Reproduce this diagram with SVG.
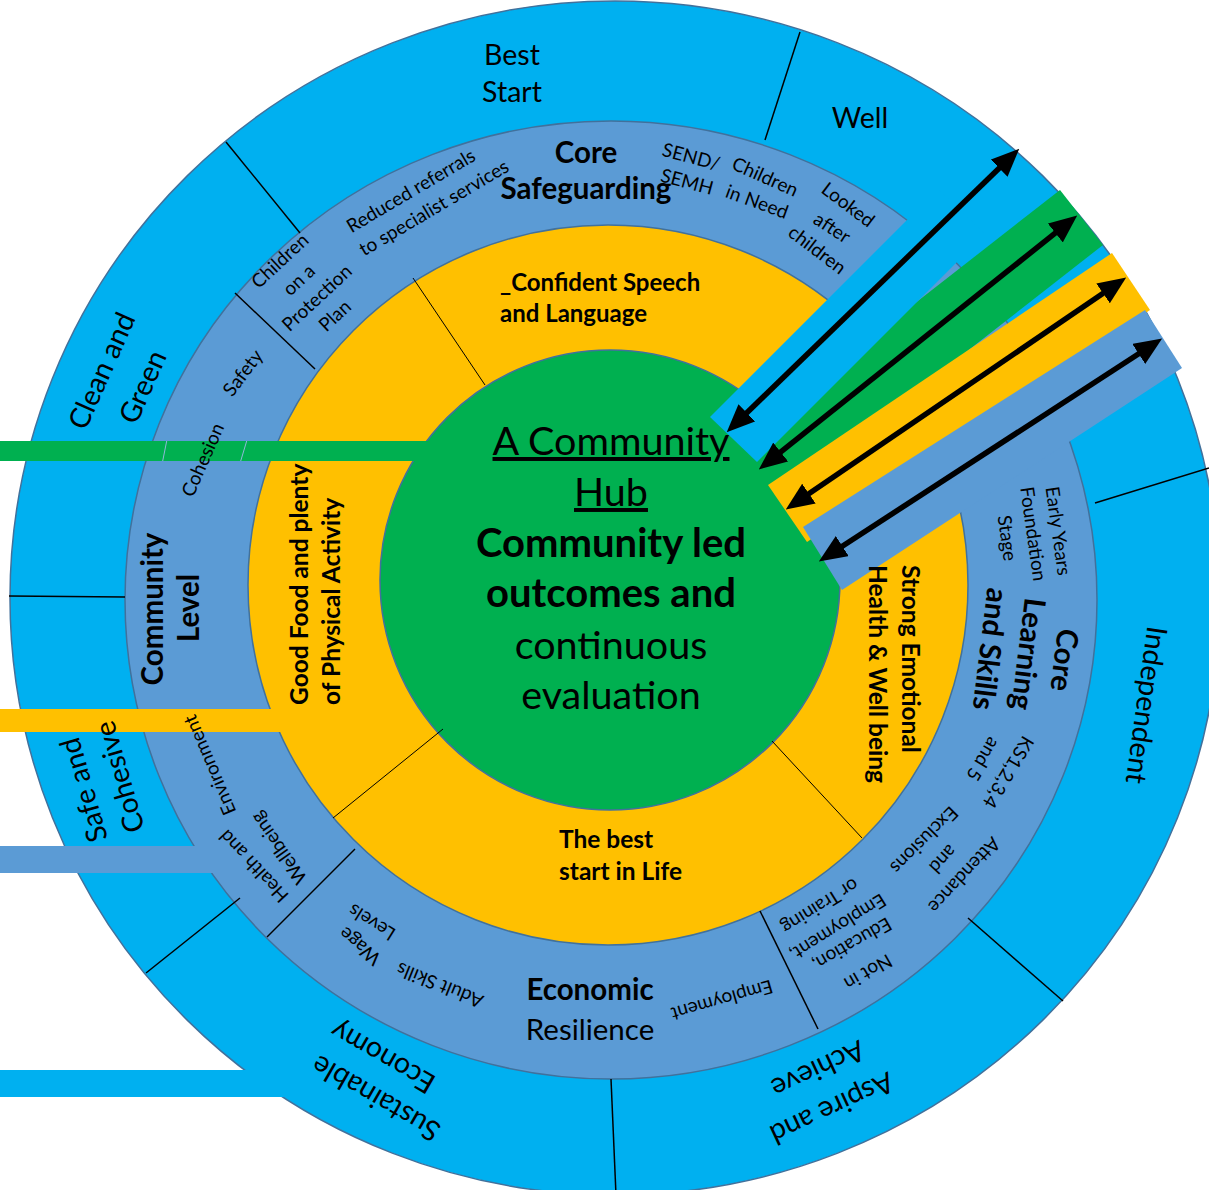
<svg xmlns="http://www.w3.org/2000/svg" width="1209" height="1190" viewBox="0 0 1209 1190">
<defs>
<style>
text { font-family: Lato, "Open Sans", "Liberation Sans", sans-serif; fill: #000; }
.o { font-size: 28.5px; }
.s { font-size: 19px; }
.h { font-size: 29.5px; font-weight: 700; }
.y { font-size: 24.5px; font-weight: 700; }
.c { font-size: 39.5px; }
.cb { font-size: 40px; font-weight: 700; }
.u { text-decoration: underline; }
.sep { stroke: #000; stroke-width: 1.5; fill: none; }
.thin { stroke: #000; stroke-width: 1; fill: none; }
.ring { stroke: #41719C; stroke-width: 1.5; }
.lb { fill: #00B0F0; }
.mb { fill: #5B9BD5; }
.yl { fill: #FFC000; }
.gr { fill: #00B050; }
.arrow { stroke: #000; stroke-width: 5.5; fill: none; marker-start: url(#head); marker-end: url(#head); }
</style>
<marker id="head" markerUnits="userSpaceOnUse" markerWidth="28" markerHeight="24" refX="1" refY="12" orient="auto-start-reverse" viewBox="0 0 28 24">
<path d="M0,0 L28,12 L0,24 z" fill="#000"/>
</marker>
</defs>

<!-- concentric rings -->
<g id="rings">
<ellipse class="lb ring" cx="615" cy="598" rx="605" ry="597"/>
<ellipse class="mb ring" cx="611" cy="600" rx="486" ry="479"/>
<circle class="yl ring" cx="608" cy="585" r="360"/>
<circle class="gr ring" cx="610" cy="580" r="230"/>
</g>

<!-- segment dividers -->
<g id="dividers">
<line class="sep" x1="226" y1="142" x2="300" y2="233"/>
<line class="sep" x1="800" y1="32" x2="765" y2="140"/>
<line class="sep" x1="9" y1="596" x2="125" y2="597"/>
<line class="sep" x1="240" y1="898" x2="146" y2="973"/>
<line class="sep" x1="611" y1="1079" x2="616" y2="1195"/>
<line class="sep" x1="968" y1="918" x2="1063" y2="1001"/>
<line class="sep" x1="1095" y1="503" x2="1209" y2="468"/>
<line class="sep" x1="235" y1="293" x2="315" y2="369"/>
<line class="sep" x1="355" y1="849" x2="267" y2="937"/>
<line class="sep" x1="760" y1="911" x2="818" y2="1029"/>
<line class="thin" x1="413" y1="278" x2="485" y2="385"/>
<line class="thin" x1="333" y1="818" x2="443" y2="729"/>
<line class="thin" x1="772" y1="741" x2="862" y2="838"/>
<path d="M904,226 L866,284 Q861,292 852,291" fill="none" stroke="#8cb4dd" stroke-width="1"/>
</g>

<!-- connectors: bands and double-headed arrows -->
<g id="connectors">
<rect class="gr" x="0" y="441" width="430" height="20"/>
<line x1="166.7" y1="441" x2="162.7" y2="461" stroke="#8fb8d8" stroke-width="1"/>
<line x1="246.7" y1="441" x2="240.7" y2="461" stroke="#8fb8d8" stroke-width="1"/>
<rect class="yl" x="0" y="709" width="300" height="23"/>
<rect class="mb" x="0" y="846" width="260" height="27"/>
<rect class="lb" x="0" y="1070" width="300" height="27"/>

<polygon class="gr" points="1060,190 1103,245 788,491 745,436"/>
<polygon class="yl" points="1112,253 1150,310 807,542 768,485"/>
<polygon class="mb" points="1145,310 1182,368 842,590 803,527"/>
<polygon class="lb" points="710,417 757,462 985,234 938,189"/>

<line class="arrow" x1="746.1" y1="413.5" x2="999.9" y2="167.5"/>
<line class="arrow" x1="779.9" y1="452.6" x2="1056.1" y2="232.4"/>
<line class="arrow" x1="808.1" y1="494.2" x2="1103.9" y2="292.8"/>
<line class="arrow" x1="841.5" y1="546.7" x2="1139.5" y2="353.3"/>
</g>

<!-- outer ring labels -->
<g id="best-start"><text class="o" x="512" y="65" text-anchor="middle">Best</text><text class="o" x="512" y="102" text-anchor="middle">Start</text></g>
<g id="well"><text class="o" x="860" y="128" text-anchor="middle">Well</text></g>
<g id="clean-green">
<text class="o" text-anchor="middle" y="9.5" transform="translate(102,371) rotate(-66)">Clean and</text>
<text class="o" text-anchor="middle" y="9.5" transform="translate(143,387) rotate(-66)">Green</text>
</g>
<g id="safe-cohesive">
<text class="o" text-anchor="middle" y="9.5" transform="translate(84,790) rotate(-106)">Safe and</text>
<text class="o" text-anchor="middle" y="9.5" transform="translate(120,777) rotate(-106)">Cohesive</text>
</g>
<g id="sustainable-economy">
<text class="o" text-anchor="middle" y="9.5" transform="translate(376,1098) rotate(-150)">Sustainable</text>
<text class="o" text-anchor="middle" y="9.5" transform="translate(383,1057) rotate(-150)">Economy</text>
</g>
<g id="aspire-achieve">
<text class="o" text-anchor="middle" y="9.5" transform="translate(832,1108) rotate(155)">Aspire and</text>
<text class="o" text-anchor="middle" y="9.5" transform="translate(818,1069) rotate(155)">Achieve</text>
</g>
<g id="independent">
<text class="o" text-anchor="middle" y="9.5" transform="translate(1146,705) rotate(98)">Independent</text>
</g>

<!-- core safeguarding segment -->
<g id="core-safeguarding">
<text class="h" x="586" y="163" text-anchor="middle">Core</text>
<text class="h" x="586" y="199" text-anchor="middle">Safeguarding</text>
<text class="s" text-anchor="middle" y="6.3" transform="translate(691,157) rotate(15)">SEND/</text>
<text class="s" text-anchor="middle" y="6.3" transform="translate(687,182) rotate(15)">SEMH</text>
<text class="s" text-anchor="middle" y="6.3" transform="translate(765,177) rotate(24)">Children</text>
<text class="s" text-anchor="middle" y="6.3" transform="translate(757,202) rotate(20)">in Need</text>
<text class="s" text-anchor="middle" y="6.3" transform="translate(848,205) rotate(37)">Looked</text>
<text class="s" text-anchor="middle" y="6.3" transform="translate(832,228) rotate(33)">after</text>
<text class="s" text-anchor="middle" y="6.3" transform="translate(817,250) rotate(37)">children</text>
<text class="s" text-anchor="middle" y="6.3" transform="translate(411,191) rotate(-30.5)">Reduced referrals</text>
<text class="s" text-anchor="middle" y="6.3" transform="translate(434,208) rotate(-30.5)">to specialist services</text>
<text class="s" text-anchor="middle" y="6.3" transform="translate(280,261) rotate(-43)">Children</text>
<text class="s" text-anchor="middle" y="6.3" transform="translate(299,280) rotate(-43)">on a</text>
<text class="s" text-anchor="middle" y="6.3" transform="translate(317,298) rotate(-43)">Protection</text>
<text class="s" text-anchor="middle" y="6.3" transform="translate(335,316) rotate(-43)">Plan</text>
</g>

<!-- community level segment -->
<g id="community-level">
<text class="s" text-anchor="middle" y="6.3" transform="translate(243,373) rotate(-53)">Safety</text>
<text class="s" text-anchor="middle" y="6.3" transform="translate(203,460) rotate(-66)">Cohesion</text>
<text class="h" text-anchor="middle" y="10" transform="translate(153,609) rotate(-90)">Community</text>
<text class="h" text-anchor="middle" y="10" transform="translate(189,608) rotate(-90)">Level</text>
<text class="s" text-anchor="middle" y="6.3" transform="translate(254,866) rotate(-133)">Health and</text>
<text class="s" text-anchor="middle" y="6.3" transform="translate(210,765) rotate(-113)">Environment</text>
<text class="s" text-anchor="middle" y="6.3" transform="translate(279,848) rotate(-125)">Wellbeing</text>
</g>

<!-- economic resilience segment -->
<g id="economic-resilience">
<text class="s" text-anchor="middle" y="6.3" transform="translate(360,946) rotate(-140)">Wage</text>
<text class="s" text-anchor="middle" y="6.3" transform="translate(372,922) rotate(-148)">Levels</text>
<text class="s" text-anchor="middle" y="6.3" transform="translate(440,985) rotate(-158)">Adult Skills</text>
<text class="h" x="590" y="1000" text-anchor="middle">Economic</text>
<text class="o" x="590" y="1040" text-anchor="middle" style="font-size:29.5px">Resilience</text>
<text class="s" text-anchor="middle" y="6.3" transform="translate(722,1000) rotate(164)">Employment</text>
</g>

<!-- core learning and skills segment -->
<g id="core-learning">
<text class="s" text-anchor="middle" y="6.3" transform="translate(868,972) rotate(150)">Not in</text>
<text class="s" text-anchor="middle" y="6.3" transform="translate(852,944) rotate(150)">Education,</text>
<text class="s" text-anchor="middle" y="6.3" transform="translate(838,927) rotate(148)">Employment,</text>
<text class="s" text-anchor="middle" y="6.3" transform="translate(820,906) rotate(148)">or Training</text>
<text class="s" text-anchor="middle" y="6.3" transform="translate(964,875) rotate(133)">Attendance</text>
<text class="s" text-anchor="middle" y="6.3" transform="translate(943,859) rotate(133)">and</text>
<text class="s" text-anchor="middle" y="6.3" transform="translate(924,840) rotate(135)">Exclusions</text>
<text class="s" text-anchor="middle" y="6.3" transform="translate(1008,772) rotate(121)">KS1,2,3,4</text>
<text class="s" text-anchor="middle" y="6.3" transform="translate(983,759) rotate(121)">and 5</text>
<text class="s" text-anchor="middle" y="6.3" transform="translate(1058,531) rotate(82)">Early Years</text>
<text class="s" text-anchor="middle" y="6.3" transform="translate(1033,534) rotate(82)">Foundation</text>
<text class="s" text-anchor="middle" y="6.3" transform="translate(1007,538) rotate(82)">Stage</text>
<text class="h" text-anchor="middle" y="10" transform="translate(1064,660) rotate(97)">Core</text>
<text class="h" text-anchor="middle" y="10" transform="translate(1028,654) rotate(97)">Learning</text>
<text class="h" text-anchor="middle" y="10" transform="translate(990,649) rotate(97)">and Skills</text>
</g>

<!-- inner outcome segments -->
<g id="speech-language">
<text class="y" x="500" y="291" style="font-size:24px">_Confident Speech</text>
<text class="y" x="500" y="322" style="font-size:24px">and Language</text>
</g>
<g id="good-food">
<text class="y" transform="translate(308,705) rotate(-90)">Good Food and plenty</text>
<text class="y" transform="translate(340,705) rotate(-90)">of Physical Activity</text>
</g>
<g id="emotional-health">
<text class="y" transform="translate(902,565) rotate(90)">Strong Emotional</text>
<text class="y" transform="translate(869,565) rotate(90)">Health &amp; Well being</text>
</g>
<g id="best-start-life">
<text class="y" x="559" y="848">The best</text>
<text class="y" x="559" y="880">start in Life</text>
</g>

<!-- hub -->
<g id="hub">
<text class="c u" x="611" y="455" text-anchor="middle">A Community</text>
<text class="c u" x="611" y="506" text-anchor="middle">Hub</text>
<text class="cb" x="611" y="557" text-anchor="middle">Community led</text>
<text class="cb" x="611" y="607" text-anchor="middle">outcomes and</text>
<text class="c" x="611" y="659" text-anchor="middle">continuous</text>
<text class="c" x="611" y="709" text-anchor="middle">evaluation</text>
</g>
</svg>
